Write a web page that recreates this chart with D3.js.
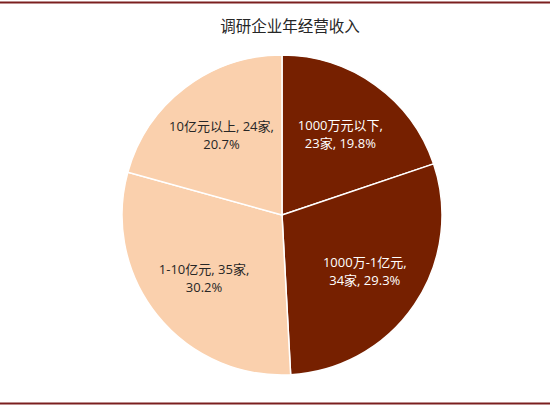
<!DOCTYPE html>
<html>
<head>
<meta charset="utf-8">
<script src="https://cdn.jsdelivr.net/npm/d3@7"></script>
<style>
  body { margin: 0; background: #fff; }
  svg { display: block; font-family: "Open Sans", "Noto Sans CJK SC", sans-serif; }
</style>
</head>
<body>
<svg width="550" height="407"></svg>
<script>
const categories = ['1000万元以下', '1000万-1亿元', '1-10亿元', '10亿元以上']
const counts = [23, 34, 35, 24]
const percents = ['19.8%', '29.3%', '30.2%', '20.7%']
// label breaks after the name (0) or after the count (1)
const wraps = [0, 0, 1, 1]
const title = '调研企业年经营收入'

const svg = d3.select('svg'),
  width = +svg.attr('width'),
  height = +svg.attr('height')

const cx = 282, cy = 215, radius = 160

const color = d3.scaleOrdinal().domain(categories)
  .range(['#762000', '#762000', '#fad0ad', '#fad0ad'])
const textColor = d3.scaleOrdinal().domain(categories)
  .range(['#ffffff', '#ffffff', '#262626', '#262626'])

// frame lines
svg.append('line').attr('x1', 0).attr('x2', width).attr('y1', 2.5).attr('y2', 2.5)
  .attr('stroke', '#7b1f1f').attr('stroke-width', 2)
svg.append('line').attr('x1', 0).attr('x2', width).attr('y1', 403.5).attr('y2', 403.5)
  .attr('stroke', '#7b1f1f').attr('stroke-width', 2)

svg.append('text')
  .attr('x', 290).attr('y', 32)
  .attr('text-anchor', 'middle')
  .attr('font-size', 15.5)
  .attr('fill', '#262626')
  .text(title)

const pie = d3.pie().sort(null).value((d, i) => counts[i])
const arcs = pie(categories)
const arc = d3.arc().innerRadius(0).outerRadius(radius)
const labelArc = d3.arc().innerRadius(100).outerRadius(100)

const g = svg.append('g').attr('transform', `translate(${cx},${cy})`)

g.selectAll('.slice').data(arcs).enter().append('path')
  .attr('class', 'slice')
  .attr('d', arc)
  .attr('fill', d => color(d.data))
  .attr('stroke', '#fff')
  .attr('stroke-width', 1.5)

const labels = g.selectAll('.label').data(arcs).enter().append('text')
  .attr('class', 'label')
  .attr('transform', d => `translate(${labelArc.centroid(d)})`)
  .attr('text-anchor', 'middle')
  .attr('font-size', 13)
  .attr('fill', d => textColor(d.data))

labels.each(function(d) {
  const i = d.index
  const lines = wraps[i] === 0
    ? [`${categories[i]},`, `${counts[i]}家, ${percents[i]}`]
    : [`${categories[i]}, ${counts[i]}家,`, percents[i]]
  d3.select(this).selectAll('tspan').data(lines).enter().append('tspan')
    .attr('x', 0)
    .attr('y', (l, j) => j === 0 ? -4 : 14)
    .text(l => l)
})
</script>
</body>
</html>
